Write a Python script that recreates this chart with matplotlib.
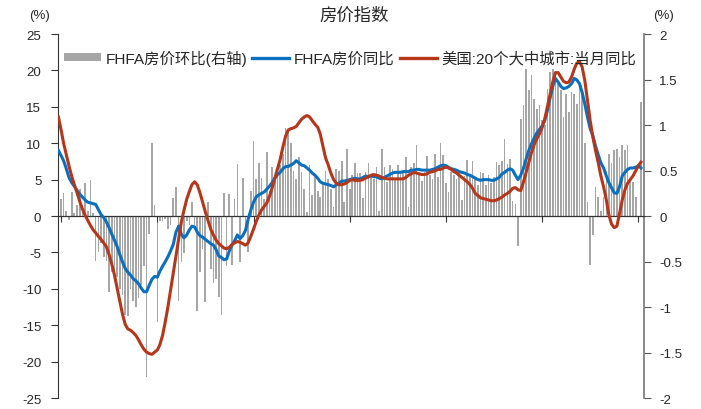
import pandas as pd
import matplotlib
matplotlib.use('Agg')
import matplotlib.pyplot as plt
from matplotlib.lines import Line2D
from matplotlib.patches import Patch

plt.rcParams['font.family'] = ['Liberation Sans', 'Noto Sans CJK SC']

# monthly data, 2006-01 .. 2024-03
months = pd.date_range('2006-01-01', '2024-03-01', freq='MS')

# FHFA purchase-only index, month over month (%), right axis
fhfa_mom = [
    0.08, 0.19, 0.25, 0.05, -0.04, 0.26, 0.03, 0.12, 0.30, 0.08, 0.36, 0.06,
    0.40, 0.03, -0.49, -0.40, -0.30, -0.45, -0.49, -0.83, -0.61, -0.70, -0.67, -0.80,
    -0.87, -1.09, -1.10, -0.80, -0.93, -1.00, -0.90, -0.76, -0.55, -1.77, -0.20, 0.80,
    0.12, -1.16, -0.05, -0.05, -0.03, -0.14, -0.10, 0.20, 0.32, -0.93, -0.50, -0.41,
    -0.05, -0.10, 0.15, -0.10, -1.04, -0.62, -0.36, -0.94, 0.15, -0.58, -0.74, -0.69,
    -0.89, -1.09, 0.25, -0.55, 0.24, -0.54, 0.19, 0.57, -0.51, 0.42, -0.17, -0.40,
    0.28, 0.82, 0.41, 0.58, 0.42, 0.19, 0.70, 0.28, 0.54, 0.39, 0.45, 0.56,
    0.68, 0.97, 0.92, 0.80, 0.50, 0.41, 0.65, 0.48, 0.30, 0.04, 0.56, 0.23,
    0.43, 0.28, 0.21, 0.35, 0.50, 0.41, 0.30, 0.10, 0.52, 0.50, 0.61, 0.15,
    0.74, 0.30, 0.45, 0.58, 0.47, 0.47, 0.20, 0.48, 0.58, 0.45, 0.41, 0.54,
    0.05, 0.74, 0.54, 0.37, 0.56, 0.52, 0.42, 0.56, 0.50, 0.47, 0.65, 0.10,
    0.54, 0.58, 0.78, 0.47, 0.39, 0.48, 0.66, 0.45, 0.41, 0.68, 0.43, 0.80,
    0.67, 0.36, 0.26, 0.48, 0.45, 0.41, 0.50, 0.18, 0.44, 0.62, 0.45, 0.60,
    0.41, 0.34, 0.48, 0.47, 0.34, 0.45, 0.36, 0.43, 0.59, 0.56, 0.61, 0.85,
    0.57, 0.63, 0.17, 0.13, -0.33, 1.07, 1.22, 1.62, 1.38, 1.55, 1.29, 1.18,
    1.22, 1.05, 1.00, 1.40, 1.58, 1.62, 1.56, 1.45, 1.38, 1.09, 1.34, 1.14,
    1.36, 1.34, 1.23, 1.45, 1.36, 0.80, 0.15, -0.54, -0.21, 0.32, 0.21, 0.06,
    0.21, 0.50, 0.68, 0.58, 0.72, 0.74, 0.65, 0.78, 0.72, 0.78, 0.39, 0.37,
    0.21, -0.05, 1.25,
]

# FHFA year over year (%), left axis
fhfa_yoy = [
    9.0, 8.3, 7.6, 6.5, 5.3, 4.6, 4.1, 3.5, 3.0, 2.6, 2.2, 1.9,
    1.8, 1.7, 1.6, 0.9, 0.2, -0.2, -0.8, -1.6, -2.5, -3.3, -4.2, -5.3,
    -6.3, -7.2, -7.7, -8.1, -8.6, -8.9, -9.3, -9.9, -10.4, -10.4, -9.5, -8.7,
    -8.3, -8.4, -7.6, -6.9, -6.3, -5.6, -4.8, -3.9, -2.2, -1.4, -2.5, -3.0,
    -2.6, -1.9, -1.4, -1.5, -2.2, -2.7, -2.9, -3.2, -3.5, -3.8, -4.0, -4.6,
    -5.5, -5.7, -6.0, -5.9, -4.8, -4.0, -3.4, -2.6, -3.1, -2.7, -2.0, -0.5,
    0.8, 1.9, 2.6, 2.9, 3.1, 3.3, 3.7, 4.1, 4.6, 5.2, 5.7, 6.0,
    6.5, 6.8, 6.8, 7.0, 7.2, 7.6, 7.3, 7.0, 6.9, 6.6, 6.3, 5.9,
    5.6, 5.2, 4.7, 4.5, 4.4, 4.3, 4.2, 4.0, 4.3, 4.5, 4.8, 4.8,
    4.9, 5.0, 5.1, 5.2, 5.1, 5.1, 5.3, 5.5, 5.4, 5.5, 5.4, 5.4,
    5.2, 5.1, 5.3, 5.5, 5.7, 5.9, 6.0, 6.0, 6.0, 6.1, 6.1, 6.1,
    6.3, 6.3, 6.4, 6.4, 6.3, 6.3, 6.3, 6.3, 6.4, 6.5, 6.7, 6.9,
    7.0, 6.9, 6.7, 6.5, 6.4, 6.3, 6.1, 6.0, 5.9, 5.7, 5.6, 5.4,
    5.2, 5.0, 4.9, 5.0, 5.0, 5.0, 4.9, 4.9, 5.1, 5.3, 5.8, 6.0,
    6.3, 6.5, 6.3, 5.6, 5.0, 5.6, 6.5, 7.8, 9.0, 9.9, 10.7, 11.4,
    11.9, 12.4, 13.1, 14.5, 16.2, 17.8, 18.9, 18.4, 17.8, 17.5, 17.6, 17.8,
    18.2, 18.9, 18.7, 18.2, 17.0, 15.4, 13.6, 12.0, 11.0, 9.6, 8.4, 7.3,
    6.6, 5.5, 4.6, 3.9, 3.2, 3.1, 4.0, 5.5, 6.0, 6.4, 6.6, 6.6,
    6.7, 6.9, 6.6,
]

# S&P/Case-Shiller 20-city composite, year over year (%), left axis
cs20_yoy = [
    13.6, 11.8, 10.0, 8.4, 6.9, 5.5, 4.3, 3.2, 2.0, 1.0, 0.1, -0.6,
    -1.3, -1.9, -2.3, -2.8, -3.2, -3.7, -4.2, -5.3, -6.6, -8.1, -9.9, -11.7,
    -13.5, -14.9, -15.5, -15.7, -16.0, -16.4, -17.0, -17.7, -18.3, -18.7, -18.9, -19.0,
    -18.7, -18.4, -17.7, -16.4, -14.6, -12.5, -10.2, -7.9, -5.5, -3.1, -0.8, 0.8,
    2.3, 3.4, 4.3, 4.7, 4.3, 3.2, 1.9, 0.6, -0.6, -1.8, -2.6, -3.3,
    -3.8, -4.1, -4.4, -4.5, -4.3, -3.9, -3.7, -3.5, -3.6, -3.8, -4.0, -3.7,
    -2.8, -1.8, -0.8, 0.1, 0.8, 1.3, 1.8, 2.7, 3.9, 5.2, 6.5, 7.8,
    9.5, 11.0, 11.8, 12.0, 12.1, 12.3, 12.8, 13.3, 13.6, 13.8, 13.6, 13.1,
    12.6, 12.2, 11.3, 9.6, 8.0, 7.0, 5.9, 5.0, 4.5, 4.3, 4.3, 4.4,
    4.6, 4.9, 5.0, 4.9, 4.9, 4.9, 5.0, 5.2, 5.4, 5.6, 5.7, 5.6,
    5.5, 5.3, 5.2, 5.1, 5.1, 5.1, 5.1, 5.1, 5.1, 5.1, 5.3, 5.6,
    5.8, 6.0, 5.9, 5.8, 5.7, 5.7, 5.8, 6.0, 6.1, 6.2, 6.4, 6.4,
    6.6, 6.7, 6.6, 6.4, 6.1, 5.9, 5.6, 5.3, 5.0, 4.7, 4.3, 3.8,
    3.1, 2.8, 2.5, 2.4, 2.3, 2.2, 2.1, 2.1, 2.2, 2.4, 2.6, 2.9,
    3.1, 3.4, 3.8, 3.9, 3.6, 3.5, 4.6, 6.0, 7.4, 8.7, 9.8, 10.6,
    11.3, 12.2, 13.3, 15.0, 16.6, 18.4, 19.7, 19.7, 19.1, 18.5, 18.3, 18.4,
    19.1, 20.2, 21.0, 21.2, 20.5, 18.6, 15.9, 13.1, 10.8, 9.0, 7.3, 5.5,
    4.0, 2.2, 0.2, -1.1, -1.6, -1.4, 0.3, 2.2, 3.6, 4.5, 5.0, 5.5,
    6.2, 6.9, 7.4,
]

left_ticks = [-25, -20, -15, -10, -5, 0, 5, 10, 15, 20, 25]
right_ticks = [-2, -1.5, -1, -0.5, 0, 0.5, 1, 1.5, 2]
x_ticks = pd.to_datetime(['2006-02-01', '2009-02-01', '2012-02-01', '2015-02-01',
                          '2018-02-01', '2021-02-01', '2024-02-01'])

bar_color = '#a6a6a6'
blue = '#0b6fc0'
red = '#b7361a'
text_color = '#262626'

fig = plt.figure(figsize=(7.01, 4.10), dpi=100)
ax = fig.add_axes([0.0827, 0.0268, 0.8360, 0.8878])
ax2 = ax.twinx()

# bars on the right axis, lines on the left axis drawn above them
ax2.bar(months, fhfa_mom, width=19, color=bar_color, linewidth=0, zorder=1)
ax.set_zorder(ax2.get_zorder() + 1)
ax.patch.set_visible(False)

ax.plot(months, fhfa_yoy, color=blue, lw=2.2, zorder=3)
ax.plot(months, cs20_yoy, color=red, lw=2.2, zorder=4)

ax.set_ylim(-25, 25)
ax2.set_ylim(-2, 2)
ax.set_xlim(pd.Timestamp('2005-12-27'), pd.Timestamp('2024-04-05'))

ax.set_yticks(left_ticks)
ax.set_yticklabels([f'{v:g}' for v in left_ticks])
ax2.set_yticks(right_ticks)
ax2.set_yticklabels([f'{v:g}' for v in right_ticks])

ax.set_xticks(x_ticks)
ax.set_xticklabels([])
ax.tick_params(axis='x', direction='out', length=4, width=0.8, color='#333333')
ax.tick_params(axis='y', direction='out', length=5, width=0.8, pad=7,
               labelsize=9.5, labelcolor=text_color, color='#333333')
ax2.tick_params(axis='y', direction='out', length=5, width=0.8, pad=6,
                labelsize=9.5, labelcolor=text_color, color='#555555')

for a in (ax, ax2):
    a.spines['top'].set_visible(False)
ax.spines['right'].set_visible(False)
ax2.spines['left'].set_visible(False)
ax2.spines['bottom'].set_visible(False)
ax.spines['bottom'].set_position(('data', 0))
ax.spines['bottom'].set_color('#333333')
ax.spines['bottom'].set_linewidth(0.9)
ax.spines['left'].set_color('#333333')
ax.spines['left'].set_linewidth(0.8)
ax2.spines['right'].set_color('#808080')
ax2.spines['right'].set_linewidth(1.3)

handles = [
    Patch(facecolor=bar_color, edgecolor='none'),
    Line2D([], [], color=blue, lw=2.4),
    Line2D([], [], color=red, lw=2.4),
]
labels = ['FHFA房价环比(右轴)', 'FHFA房价同比', '美国:20个大中城市:当月同比']
ax.legend(handles, labels, loc='center left', bbox_to_anchor=(-0.014, 0.935),
          ncol=3, frameon=False, fontsize=11.1, handlelength=2.4,
          handleheight=0.45, handletextpad=0.3, columnspacing=0.35,
          labelcolor=text_color)

fig.text(0.505, 0.962, '房价指数', ha='center', va='center', fontsize=12.5,
         color=text_color)
fig.text(0.056, 0.962, '(%)', ha='center', va='center', fontsize=9.5,
         color=text_color)
fig.text(0.946, 0.962, '(%)', ha='center', va='center', fontsize=9.5,
         color=text_color)

fig.savefig('out.png', dpi=100)
